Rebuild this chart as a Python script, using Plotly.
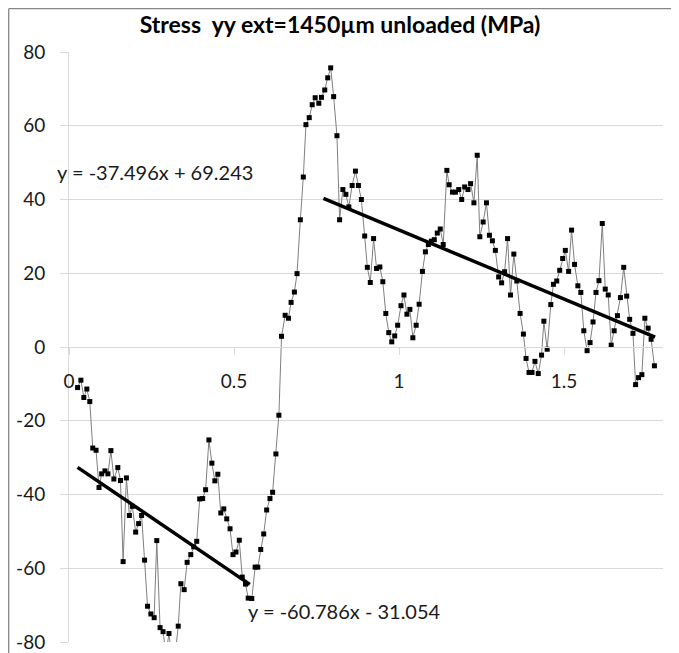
import plotly.graph_objects as go

# distance (mm) and stress (MPa)
x_pos = [0.026, 0.036, 0.045, 0.054, 0.063, 0.072, 0.082, 0.091, 0.099, 0.109,
         0.118, 0.127, 0.136, 0.148, 0.156, 0.164, 0.174, 0.183, 0.192, 0.202,
         0.211, 0.220, 0.229, 0.238, 0.248, 0.258, 0.266, 0.276, 0.285, 0.294,
         0.303, 0.312, 0.321, 0.331, 0.339, 0.349, 0.358, 0.369, 0.378, 0.387,
         0.396, 0.405, 0.414, 0.424, 0.433, 0.442, 0.451, 0.460, 0.469, 0.478,
         0.488, 0.497, 0.506, 0.516, 0.525, 0.535, 0.543, 0.554, 0.564, 0.572,
         0.581, 0.590, 0.599, 0.609, 0.617, 0.627, 0.636, 0.644, 0.655, 0.665,
         0.673, 0.683, 0.691, 0.701, 0.710, 0.718, 0.728, 0.737, 0.746, 0.757,
         0.765, 0.775, 0.784, 0.793, 0.802, 0.812, 0.820, 0.830, 0.839, 0.848,
         0.858, 0.868, 0.877, 0.886, 0.896, 0.904, 0.913, 0.923, 0.932, 0.942,
         0.951, 0.960, 0.969, 0.978, 0.987, 0.996, 1.006, 1.015, 1.024, 1.033,
         1.042, 1.052, 1.061, 1.071, 1.080, 1.089, 1.098, 1.107, 1.116, 1.125,
         1.134, 1.145, 1.152, 1.162, 1.171, 1.181, 1.190, 1.199, 1.209, 1.217,
         1.227, 1.237, 1.245, 1.255, 1.265, 1.274, 1.283, 1.292, 1.302, 1.311,
         1.320, 1.329, 1.338, 1.348, 1.357, 1.367, 1.377, 1.385, 1.394, 1.403,
         1.412, 1.422, 1.432, 1.439, 1.449, 1.460, 1.468, 1.478, 1.487, 1.496,
         1.504, 1.514, 1.523, 1.532, 1.542, 1.551, 1.560, 1.570, 1.579, 1.588,
         1.597, 1.606, 1.616, 1.625, 1.634, 1.643, 1.652, 1.662, 1.671, 1.681,
         1.690, 1.699, 1.709, 1.717, 1.726, 1.736, 1.745, 1.755, 1.764, 1.774]

stress = [-11.0, -9.0, -13.7, -11.4, -14.8, -27.4, -28.0, -38.1, -34.4, -33.6,
          -34.4, -28.1, -35.8, -32.7, -36.2, -58.2, -35.5, -45.7, -43.2, -50.2,
          -47.9, -45.7, -57.8, -70.3, -72.4, -73.4, -52.5, -76.1, -77.2, -83.0,
          -77.7, -85.0, -84.0, -75.7, -64.2, -65.8, -58.4, -56.3, -54.2, -52.7,
          -41.2, -41.1, -38.7, -25.2, -31.5, -36.3, -34.5, -45.0, -43.9, -46.6,
          -49.3, -56.3, -55.6, -52.4, -62.4, -64.3, -68.1, -68.2, -59.7, -59.7,
          -54.9, -50.7, -44.2, -41.1, -39.4, -29.0, -18.5, 2.9, 8.6, 7.8,
          12.1, 14.9, 19.9, 34.5, 46.1, 60.3, 62.2, 65.7, 67.6, 66.1,
          67.7, 69.7, 73.0, 75.7, 67.9, 57.3, 34.5, 42.7, 41.4, 38.0,
          43.8, 47.7, 43.8, 40.0, 30.1, 21.6, 17.5, 29.4, 21.3, 21.7,
          17.7, 9.1, 3.9, 1.4, 3.0, 5.9, 11.2, 14.1, 8.9, 10.2,
          2.5, 5.9, 11.6, 20.5, 25.8, 27.8, 28.7, 29.1, 30.9, 32.0,
          27.8, 47.9, 44.0, 42.0, 42.0, 42.7, 40.0, 43.4, 42.7, 44.3,
          39.1, 52.0, 29.9, 33.9, 39.1, 30.3, 28.8, 26.2, 19.0, 17.4,
          20.4, 29.4, 14.1, 25.2, 17.9, 9.1, 3.5, -3.1, -6.9, -6.9,
          -3.9, -7.2, -2.2, 7.0, -0.6, 11.5, 17.0, 17.9, 20.8, 24.0,
          26.2, 20.5, 31.7, 22.4, 16.6, 14.8, 4.4, -1.0, 1.2, 6.8,
          14.8, 18.0, 33.5, 15.7, 14.1, 0.5, 4.4, 8.5, 13.4, 21.6,
          13.8, 7.5, 3.7, -10.2, -8.3, -7.5, 7.8, 5.1, 2.1, -5.1]

# linear trendlines: (slope, intercept, x-start, x-end)
trend1 = (-60.786, -31.054, 0.026, 0.548)
trend2 = (-37.496, 69.243, 0.771, 1.776)
trend1_label = "y = -60.786x - 31.054"
trend2_label = "y = -37.496x + 69.243"

x_ticks = [0, 0.5, 1, 1.5]
x_ticktext = ["0", "0.5", "1", "1.5"]
y_ticks = [-80, -60, -40, -20, 0, 20, 40, 60, 80]
y_ticktext = ["-80", "-60", "-40", "-20", "0", "20", "40", "60", "80"]

title = "Stress  yy ext=1450\u00b5m unloaded (MPa)"

FONT = "Lato, 'Open Sans', sans-serif"
TXT = "#1a1a1a"

# page body adds an 8px offset; figure geometry below compensates for it
W, H = 671, 645
ML, MR, MT, MB = 61, 16, 44, 11
PW, PH = W - ML - MR, H - MT - MB


def px(xf):
    return (xf - ML) / PW


def py(yf):
    return (H - MB - yf) / PH


fig = go.Figure()
fig.add_trace(go.Scatter(
    x=x_pos, y=stress, mode="lines+markers",
    line=dict(color="#7f7f7f", width=1),
    marker=dict(symbol="square", size=5, color="black"),
    showlegend=False, hoverinfo="x+y"))

for slope, icpt, x0, x1 in (trend1, trend2):
    fig.add_trace(go.Scatter(
        x=[x0, x1], y=[slope * x0 + icpt, slope * x1 + icpt], mode="lines",
        line=dict(color="black", width=3.5), showlegend=False, hoverinfo="skip"))

fig.update_layout(
    width=W, height=H,
    margin=dict(l=ML, r=MR, t=MT, b=MB, autoexpand=False),
    paper_bgcolor="white", plot_bgcolor="white",
    font=dict(family=FONT, size=19, color=TXT),
    title=dict(text="<b>" + title + "</b>", x=px(332), xref="paper", xanchor="center",
               y=1 - 17 / H, yref="container", yanchor="middle",
               font=dict(family=FONT, size=23, color="#000000")),
    xaxis=dict(range=[0, 1.8], tickvals=x_ticks, ticktext=x_ticktext,
               anchor="free", position=0.5, showgrid=False, zeroline=False,
               showline=True, linecolor="#d9d9d9", linewidth=1, automargin=False,
               ticks="outside", ticklen=7, tickcolor="#d9d9d9",
               ticklabelstandoff=10, tickfont=dict(size=19, color=TXT)),
    yaxis=dict(range=[-80, 80], tickvals=y_ticks, ticktext=y_ticktext,
               showgrid=True, gridcolor="#d9d9d9", automargin=False,
               zeroline=False, showline=True, linecolor="#d9d9d9", linewidth=1,
               ticks="outside", ticklen=8, tickcolor="#d9d9d9",
               ticklabelstandoff=11, tickfont=dict(size=19, color=TXT)),
    shapes=[
        dict(type="line", xref="paper", yref="paper",
             x0=px(0.7), x1=px(0.7), y0=py(H), y1=py(0.7),
             line=dict(color="#868686", width=1.3)),
        dict(type="line", xref="paper", yref="paper",
             x0=px(0.7), x1=px(W), y0=py(0.7), y1=py(0.7),
             line=dict(color="#868686", width=1.3)),
    ],
    annotations=[
        dict(text=trend2_label, x=px(47), xref="paper",
             y=py(164), yref="paper", xanchor="left", yanchor="middle",
             showarrow=False, font=dict(family=FONT, size=20, color=TXT)),
        dict(text=trend1_label, x=px(238), xref="paper",
             y=py(603), yref="paper", xanchor="left", yanchor="middle",
             showarrow=False, font=dict(family=FONT, size=20, color=TXT)),
    ],
)

fig.write_html("out.html")
